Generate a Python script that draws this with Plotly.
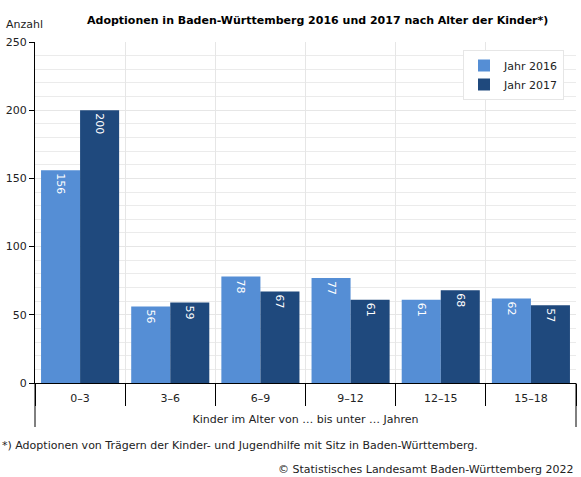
import plotly.graph_objects as go

categories = ["0\u20133", "3\u20136", "6\u20139", "9\u201312", "12\u201315", "15\u201318"]
values_2016 = [156, 56, 78, 77, 61, 62]
values_2017 = [200, 59, 67, 61, 68, 57]
series_names = ["Jahr 2016", "Jahr 2017"]
y_ticks = [0, 50, 100, 150, 200, 250]

FONT = "DejaVu Sans"
C16 = "#558ed5"
C17 = "#1f497d"

fig = go.Figure()
for name, vals, col in [(series_names[0], values_2016, C16), (series_names[1], values_2017, C17)]:
    fig.add_trace(go.Bar(
        x=categories, y=vals, name=name, marker=dict(color=col, line=dict(width=0)),
        text=[str(v) for v in vals], textposition="inside", insidetextanchor="end",
        textangle=90, textfont=dict(color="white", size=11, family=FONT),
        constraintext="none", cliponaxis=False,
    ))

fig.update_layout(
    width=581, height=477,
    margin=dict(l=35, r=5, t=42, b=94),
    paper_bgcolor="white", plot_bgcolor="white",
    barmode="group", bargap=0.134, bargroupgap=0,
    font=dict(family=FONT, size=11, color="#222"),
    showlegend=True,
    legend=dict(x=(564 - 35) / 541, y=(383 - 50) / 341, xanchor="right", yanchor="top",
                bgcolor="white", bordercolor="#e6e6e6", borderwidth=1,
                font=dict(size=11, family=FONT, color="#222"),
                itemwidth=30, tracegroupgap=0),
    xaxis=dict(type="category", tickson="boundaries", ticks="outside", ticklen=22,
               tickcolor="black", tickwidth=1, showline=True, linecolor="black", linewidth=1,
               showgrid=True, gridcolor="#e6e6e6", gridwidth=1,
               tickfont=dict(size=11, family=FONT, color="#222"), ticklabelstandoff=5,
               title=dict(text="Kinder im Alter von \u2026 bis unter \u2026 Jahren",
                          font=dict(size=11, family=FONT, color="#222"), standoff=11),
               range=[-0.5, 5.5]),
    yaxis=dict(range=[0, 250], tickvals=y_ticks, ticks="outside", ticklen=5,
               tickcolor="black", showline=True, linecolor="black", linewidth=1,
               showgrid=True, gridcolor="#e6e6e6", gridwidth=1, zeroline=False,
               tickfont=dict(size=11, family=FONT, color="#222"),
               minor=dict(dtick=10, showgrid=True, gridcolor="#ebebeb", ticks="")),
)

# extended outer lines below the category axis
for xp in [0, 1]:
    fig.add_shape(type="line", xref="paper", yref="paper", x0=xp, x1=xp, y0=0, y1=-44/341,
                  line=dict(color="black", width=1))

fig.add_annotation(text="<b>Adoptionen in Baden-W\u00fcrttemberg 2016 und 2017 nach Alter der Kinder*)</b>",
                   xref="paper", yref="paper", x=(317 - 35) / 541, y=1, yanchor="bottom",
                   xanchor="center", yshift=13, showarrow=False,
                   font=dict(size=11, family=FONT, color="black"))
fig.add_annotation(text="Anzahl", xref="paper", yref="paper", x=-31/541, y=1, xanchor="left",
                   yanchor="bottom", yshift=9, showarrow=False,
                   font=dict(size=11, family=FONT, color="#222"))
fig.add_annotation(text="*) Adoptionen von Tr\u00e4gern der Kinder- und Jugendhilfe mit Sitz in Baden-W\u00fcrttemberg.",
                   xref="paper", yref="paper", x=-35/541, y=-62/341, xanchor="left", yanchor="middle",
                   showarrow=False, font=dict(size=11, family=FONT, color="#222"))
fig.add_annotation(text="\u00a9 Statistisches Landesamt Baden-W\u00fcrttemberg 2022",
                   xref="paper", yref="paper", x=1, y=-86/341, xanchor="right", yanchor="middle",
                   showarrow=False, font=dict(size=11, family=FONT, color="#222"))

fig.write_html("out.html", config={"displayModeBar": False},
               post_script="document.body.style.margin='0px';")
